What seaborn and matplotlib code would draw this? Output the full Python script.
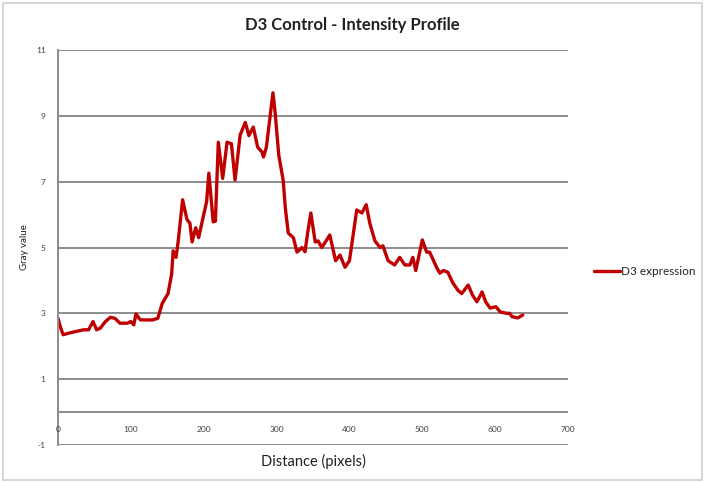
import matplotlib
matplotlib.use("Agg")
import matplotlib.pyplot as plt
import seaborn as sns
import pandas as pd
from matplotlib.patches import Rectangle

# Intensity profile along the line (distance in pixels, gray value)
distance = [0, 3, 7, 15, 25, 35, 42, 48, 53, 58, 65, 72, 78, 85, 95, 100, 104, 107,
            113, 120, 130, 137, 143, 151, 156, 158, 162, 165, 171, 177, 181, 184, 189,
            193, 199, 204, 207, 213, 216, 220, 226, 232, 238, 243, 250, 257, 262, 268,
            274, 280, 282, 286, 295, 298, 303, 309, 312, 316, 323, 328, 335, 339, 343,
            347, 353, 357, 362, 367, 373, 381, 387, 394, 400, 410, 417, 423, 428, 435,
            442, 446, 453, 462, 469, 476, 483, 487, 491, 500, 506, 510, 520, 524, 529,
            535, 542, 549, 554, 563, 569, 575, 582, 587, 593, 601, 607, 616, 620, 623,
            631, 638]
gray_value = [2.85, 2.6, 2.35, 2.4, 2.45, 2.5, 2.5, 2.75, 2.5, 2.55, 2.75, 2.88, 2.85,
              2.7, 2.7, 2.75, 2.65, 2.98, 2.8, 2.8, 2.8, 2.85, 3.3, 3.6, 4.2, 4.9, 4.7,
              5.2, 6.45, 5.85, 5.74, 5.17, 5.6, 5.3, 5.9, 6.4, 7.26, 5.78, 5.8, 8.2,
              7.1, 8.2, 8.15, 7.05, 8.42, 8.8, 8.4, 8.66, 8.05, 7.9, 7.75, 8.05, 9.7,
              9.1, 7.8, 7.05, 6.2, 5.44, 5.3, 4.86, 5.0, 4.87, 5.5, 6.05, 5.17, 5.2, 5.0,
              5.17, 5.38, 4.6, 4.77, 4.4, 4.6, 6.14, 6.05, 6.3, 5.73, 5.2, 5.0, 5.05,
              4.6, 4.47, 4.7, 4.47, 4.47, 4.7, 4.3, 5.23, 4.86, 4.86, 4.38, 4.22, 4.3,
              4.25, 3.92, 3.7, 3.6, 3.86, 3.55, 3.35, 3.65, 3.35, 3.16, 3.2, 3.04, 3.0,
              3.0, 2.9, 2.86, 2.95]

x_ticks = [0, 100, 200, 300, 400, 500, 600, 700]
y_ticks = [-1, 1, 3, 5, 7, 9, 11]
series_name = "D3 expression"

sns.set_theme(style="white")
plt.rcParams["font.family"] = ["Lato", "DejaVu Sans"]
plt.rcParams["axes.unicode_minus"] = False

df = pd.DataFrame({"Distance (pixels)": distance, "Gray value": gray_value,
                   "series": series_name})

fig = plt.figure(figsize=(7.05, 4.82), dpi=100)
ax = fig.add_axes([0.0823, 0.0768, 0.7234, 0.8194])

sns.lineplot(data=df, x="Distance (pixels)", y="Gray value", hue="series",
             palette=["#C00000"], linewidth=2.4, ax=ax)

grid_col = "#8C8C8C"
ax.set_xlim(0, 700)
ax.set_ylim(-1, 11)
ax.set_xticks(x_ticks)
ax.set_yticks(y_ticks)
ax.yaxis.grid(True, color=grid_col, linewidth=1.4)
ax.xaxis.grid(False)
# horizontal axis crosses at zero
ax.axhline(0, color=grid_col, linewidth=1.4, zorder=1)

for side in ["top", "right", "bottom"]:
    ax.spines[side].set_visible(False)
ax.spines["left"].set_color(grid_col)
ax.spines["left"].set_linewidth(1.4)

ax.tick_params(axis="both", length=0, labelsize=6, labelcolor="#404040")
ax.tick_params(axis="y", pad=9)

# x tick labels hang just under the zero line
ax.set_xticklabels([])
for t in x_ticks:
    ax.text(t, -0.42, str(t), ha="center", va="top", fontsize=6, color="#404040")

ax.set_xlabel("Distance (pixels)", fontsize=10.5, color="#202020", labelpad=3)
ax.set_ylabel("Gray value", fontsize=7, color="#202020", labelpad=5)

fig.suptitle("D3 Control - Intensity Profile", fontsize=12, fontweight="bold",
             color="#202020", x=0.5, y=0.965)

leg = ax.legend(loc="center left", bbox_to_anchor=(1.03, 0.44), frameon=False,
                fontsize=8.5, handlelength=2.2, handletextpad=0.1)
for line in leg.get_lines():
    line.set_linewidth(2.4)

fig.patches.append(Rectangle((0.004, 0.004), 0.992, 0.99, transform=fig.transFigure,
                             fill=False, edgecolor="#D0D0D0", linewidth=1.2))

fig.savefig("out.png", dpi=100)
